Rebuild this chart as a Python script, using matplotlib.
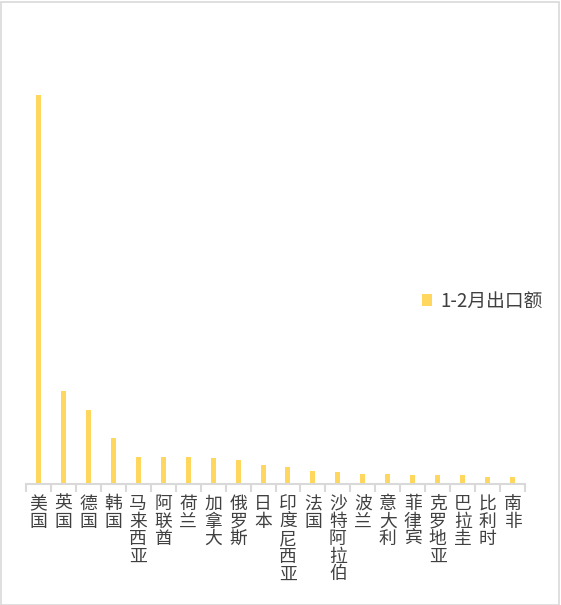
import matplotlib
matplotlib.use("Agg")
import matplotlib.pyplot as plt
from matplotlib.patches import Rectangle, Patch
import numpy as np

plt.rcParams['font.family'] = ['Noto Sans CJK SC', 'DejaVu Sans']

countries = ["美国", "英国", "德国", "韩国", "马来西亚", "阿联酋", "荷兰", "加拿大", "俄罗斯", "日本",
             "印度尼西亚", "法国", "沙特阿拉伯", "波兰", "意大利", "菲律宾", "克罗地亚", "巴拉圭", "比利时", "南非"]
values = [389, 93, 74, 46, 27, 27, 27, 26, 24, 19, 17, 13, 12, 10, 10, 9, 9, 9, 7, 7]
series_name = "1-2月出口额"

bar_color = "#FFD75E"
text_color = "#404040"

W, H = 561, 605
fig = plt.figure(figsize=(W / 100, H / 100), dpi=100)
fig.patch.set_facecolor("white")

left, right, bottom, top = 26, 525, 484, 20
ax = fig.add_axes([left / W, (H - bottom) / H, (right - left) / W, (bottom - top) / H])

x = np.arange(len(countries))
ax.bar(x, values, width=0.2, color=bar_color, zorder=2)
ax.set_xlim(-0.5, len(countries) - 0.5)
ax.set_ylim(0, (bottom - top) * 1.0)

for s in ["top", "right", "left"]:
    ax.spines[s].set_visible(False)
ax.spines["bottom"].set_color("#d9d9d9")
ax.spines["bottom"].set_linewidth(1.5)
ax.set_yticks([])

ax.set_xticks(x)
ax.set_xticklabels(["\n".join(c) for c in countries], fontsize=12.8, color=text_color,
                   linespacing=0.97, va="top")
ax.tick_params(axis="x", which="major", length=0, pad=8)
ax.set_xticks(np.arange(-0.5, len(countries), 1.0), minor=True)
ax.tick_params(axis="x", which="minor", length=6, width=1.5, color="#d9d9d9")

handle = Patch(facecolor=bar_color, edgecolor="none")
leg = fig.legend([handle], [series_name], loc="center left",
                 bbox_to_anchor=(405 / W, (H - 301) / H), frameon=False,
                 handlelength=0.55, handleheight=0.55, handletextpad=0.45,
                 prop={"size": 13.5})
for t in leg.get_texts():
    t.set_color(text_color)

fig.add_artist(Rectangle((0.5 / W, 0.5 / H), (W - 3) / W, (H - 2) / H, transform=fig.transFigure,
                         fill=False, edgecolor="#d9d9d9", linewidth=1.2))

fig.savefig("out.png", dpi=100, facecolor="white")
